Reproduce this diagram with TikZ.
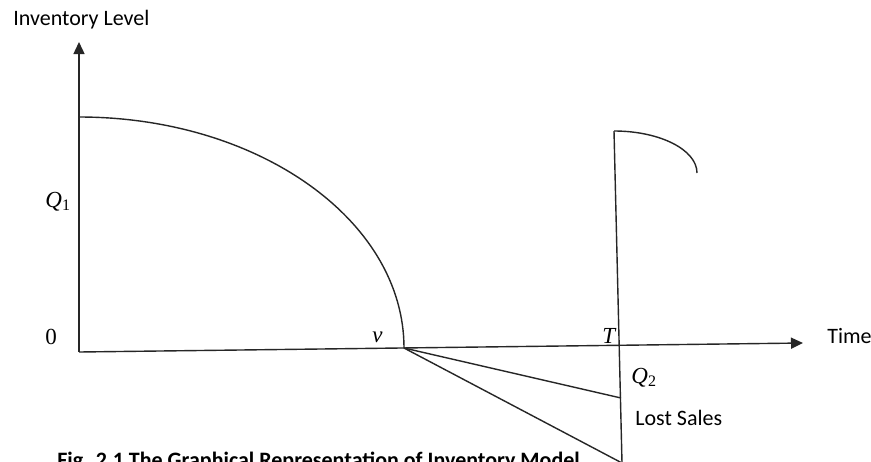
\documentclass[tikz,border=0pt]{standalone}
\usepackage{fontspec}
\setmainfont{Liberation Serif}
\newfontfamily\calib{Carlito}
\usetikzlibrary{arrows.meta}
\newcommand{\subidx}[1]{\raisebox{-0.35ex}{\fontsize{8}{9}\selectfont #1}}
\begin{document}
\begin{tikzpicture}[x=0.5pt,y=-0.5pt,
  ln/.style={line width=0.7pt, draw=black!85},
  axis/.style={ln, -{Triangle[length=6pt,width=5.5pt]}},
  sans/.style={font=\calib\fontsize{11}{13}\selectfont, inner sep=0pt},
  capt/.style={font=\calib\bfseries\fontsize{11}{13}\selectfont, inner sep=0pt},
  mlbl/.style={font=\fontsize{11.5}{13}\selectfont, inner sep=0pt}]
\clip (0,0) rectangle (871,461);
\fill[white] (0,0) rectangle (871,461);
% key points
\coordinate (O) at (79,352);
\coordinate (ytip) at (79,42);
\coordinate (xtip) at (803,343);
\coordinate (Q1top) at (79,117);
\coordinate (v) at (404,348);
\coordinate (Ttop) at (614,131);
\coordinate (Tbot) at (622,463);
\coordinate (Q2end) at (621,398);
% axes
\draw[axis] (O) -- (ytip);
\draw[axis] (O) -- (xtip);
% inventory curves
\draw[ln] (Q1top) arc[start angle=-90, end angle=0, x radius=325, y radius=231];
\draw[ln] (Ttop) -- (Tbot);
\draw[ln] (Ttop) arc[start angle=-90, end angle=0, x radius=83, y radius=42];
% shortage lines
\draw[ln] (v) -- (Q2end);
\draw[ln] (v) -- (Tbot);
% labels
\node[sans, anchor=base west] (ylab) at (13,25) {Inventory Level};
\node[sans, anchor=base west] (xlab) at (827,343) {Time};
\node[sans, anchor=base west] (lost) at (635,425) {Lost Sales};
\node[mlbl, anchor=base west] (q1) at (45,207) {\itshape Q\/\upshape\subidx{1}};
\node[mlbl, anchor=base west] (zero) at (45,344) {0};
\node[mlbl, anchor=base west] (vlab) at (372,342) {\itshape v};
\node[mlbl, anchor=base west] (tlab) at (602,343) {\itshape T};
\node[mlbl, anchor=base west] (q2) at (631,383) {\itshape Q\/\upshape\subidx{2}};
\node[capt, anchor=base west] (cap) at (57,467) {Fig. 2.1 The Graphical Representation of Inventory Model};
\end{tikzpicture}
\end{document}
